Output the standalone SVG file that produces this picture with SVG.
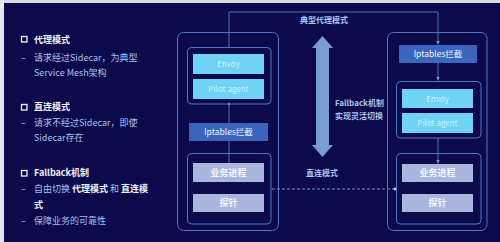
<svg xmlns="http://www.w3.org/2000/svg" width="500" height="242" viewBox="0 0 500 242">
<defs>
<style>
.bg{fill:#0c0a4a}
.outer{fill:none;stroke:#4c78c6;stroke-width:1}
.inner{fill:none;stroke:#4c78c6;stroke-width:1}
.cyan{fill:#6ed3f4}
.ipt{fill:#3c66bd}
.grey{fill:#a9b7de}
.t{font-family:"Noto Sans CJK SC","Noto Sans",sans-serif}
.nt{font-size:8px;fill:#d4f1ff;text-anchor:middle}
.it{font-size:8.5px;fill:#eef3ff;text-anchor:middle}
.gt{font-size:9px;fill:#f4f6ff;text-anchor:middle;font-weight:bold}
.lab{font-size:8px;fill:#a9c3f0;font-weight:bold}
.h{font-size:9px;fill:#eef1ff;font-weight:bold}
.b{font-size:9px;fill:#a9c0ee}
.bw{fill:#eef1ff;font-weight:bold}
.conn{fill:none;stroke:#5b8ddb;stroke-width:0.8}
.dash{fill:none;stroke:#7aa0dc;stroke-width:0.9;stroke-dasharray:3 2}
</style>
<marker id="arr" viewBox="0 0 6 6" refX="6" refY="3" markerWidth="5" markerHeight="5" orient="auto">
<path d="M0,0 L6,3 L0,6 z" fill="#6a9ae6"/>
</marker>
</defs>
<rect class="bg" x="0" y="0" width="500" height="242"/>
<rect x="0" y="0" width="500" height="3" fill="#d9d9e2"/>
<rect x="0" y="0" width="4" height="242" fill="#e6e6ee"/>

<g id="left-text" class="t">
<rect x="21.5" y="36.5" width="5.5" height="5.5" fill="none" stroke="#eef1ff" stroke-width="1.3"/>
<text class="h" x="34" y="43">代理模式</text>
<text class="b" x="21" y="61">–</text>
<text class="b" x="34" y="61">请求经过Sidecar，为典型</text>
<text class="b" x="34" y="76">Service Mesh架构</text>
<rect x="21.5" y="104.5" width="5.5" height="5.5" fill="none" stroke="#eef1ff" stroke-width="1.3"/>
<text class="h" x="34" y="110">直连模式</text>
<text class="b" x="21" y="126">–</text>
<text class="b" x="34" y="126">请求不经过Sidecar，即使</text>
<text class="b" x="34" y="141">Sidecar存在</text>
<rect x="21.5" y="170.5" width="5.5" height="5.5" fill="none" stroke="#eef1ff" stroke-width="1.3"/>
<text class="h" x="34" y="176">Fallback机制</text>
<text class="b" x="21" y="192">–</text>
<text class="b" x="34" y="192">自由切换 <tspan class="bw">代理模式</tspan> 和 <tspan class="bw">直连模</tspan></text>
<text class="b bw" x="34" y="208">式</text>
<text class="b" x="21" y="224">–</text>
<text class="b" x="34" y="224">保障业务的可靠性</text>
</g>

<g id="connectors">
<path class="conn" d="M229,47 V12 H438 V44.5" marker-end="url(#arr)"/>
<path class="conn" d="M229,104 V163"/>
<circle cx="229" cy="104" r="1.3" fill="#6a9ae6"/>
<path class="conn" d="M438,63 V80.5" marker-end="url(#arr)"/>
<path class="conn" d="M438,138 V163.5" marker-end="url(#arr)"/>
<path class="dash" d="M272,189 H395"/>
<circle cx="395" cy="189" r="1.4" fill="#bcd3f5"/>
<polygon points="322.5,36 333,48 329,48 329,145 333,145 322.5,157 312,145 316,145 316,48 312,48" fill="#7b9bd3"/>
<text class="t lab" x="324" y="23" text-anchor="middle">典型代理模式</text>
<text class="t lab" x="322" y="176" text-anchor="middle">直连模式</text>
<text class="t lab" x="335" y="106">Fallback机制</text>
<text class="t lab" x="335" y="119">实现灵活切换</text>
</g>

<g id="left-pod">
<rect class="outer" x="177.5" y="32.5" width="101" height="198" rx="6"/>
<g id="left-sidecar">
<rect class="inner" x="187.5" y="47.5" width="83.5" height="56.5" rx="4"/>
<g id="left-envoy"><rect class="cyan" x="193" y="54" width="71" height="20"/><text class="t nt" x="228.5" y="67">Envoy</text></g>
<g id="left-pilot"><rect class="cyan" x="193" y="79" width="71" height="20"/><text class="t nt" x="228.5" y="92">Pilot agent</text></g>
</g>
<g id="left-iptables"><rect class="ipt" x="189" y="123" width="79" height="18"/><text class="t it" x="228.5" y="135">Iptables拦截</text></g>
<g id="left-app">
<rect class="inner" x="187.5" y="153.5" width="83.5" height="70.5" rx="4"/>
<g id="left-biz"><rect class="grey" x="193" y="163" width="71" height="19"/><text class="t gt" x="228.5" y="175.5">业务进程</text></g>
<g id="left-probe"><rect class="grey" x="193" y="194" width="71" height="18"/><text class="t gt" x="228.5" y="206">探针</text></g>
</g>
</g>

<g id="right-pod">
<rect class="outer" x="387.5" y="32.5" width="99.5" height="198" rx="6"/>
<g id="right-iptables"><rect class="ipt" x="399" y="45" width="78" height="18"/><text class="t it" x="438" y="57">Iptables拦截</text></g>
<g id="right-sidecar">
<rect class="inner" x="396.5" y="81.5" width="84.5" height="56.5" rx="4"/>
<g id="right-envoy"><rect class="cyan" x="402" y="89" width="71" height="19"/><text class="t nt" x="437.5" y="101.5">Envoy</text></g>
<g id="right-pilot"><rect class="cyan" x="402" y="113" width="71" height="20"/><text class="t nt" x="437.5" y="126">Pilot agent</text></g>
</g>
<g id="right-app">
<rect class="inner" x="396.5" y="153.5" width="84.5" height="70.5" rx="4"/>
<g id="right-biz"><rect class="grey" x="402" y="164" width="71" height="18"/><text class="t gt" x="437.5" y="176">业务进程</text></g>
<g id="right-probe"><rect class="grey" x="402" y="194" width="71" height="18"/><text class="t gt" x="437.5" y="206">探针</text></g>
</g>
</g>
</svg>
